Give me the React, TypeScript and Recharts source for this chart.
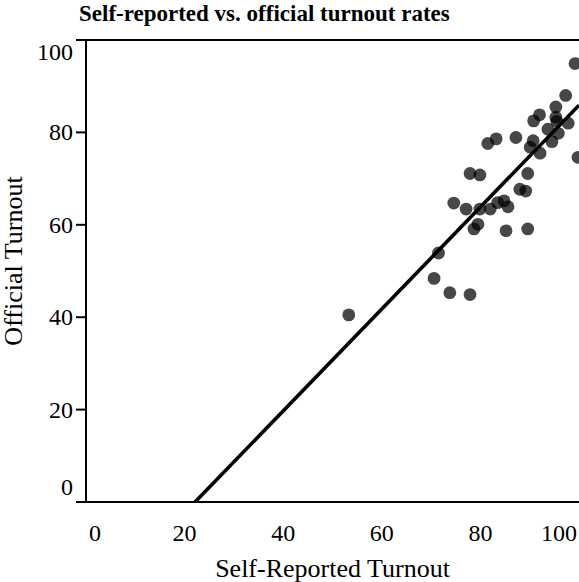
import React from 'react';
import { ScatterChart, Scatter, XAxis, YAxis, ReferenceLine } from 'recharts';

const chartTitle = 'Self-reported vs. official turnout rates';
const xTitle = 'Self-Reported Turnout';
const yTitle = 'Official Turnout';
const xTicks = [0, 20, 40, 60, 80, 100];
const yTicks = [0, 20, 40, 60, 80, 100];

const selfReported = [53.3, 70.6, 71.5, 73.8, 77.9, 74.6, 77.1, 77.9, 79.9, 79.5, 78.7, 79.9, 82.0, 83.5, 84.8, 85.6, 85.2, 89.6, 88.0, 89.2, 89.6, 81.5, 83.2, 87.2, 90.1, 90.7, 92.1, 90.8, 92.0, 93.7, 94.5, 95.3, 95.3, 95.5, 95.8, 97.3, 97.8, 99.2, 99.8];
const official = [40.5, 48.4, 53.9, 45.3, 44.9, 64.7, 63.4, 71.1, 70.8, 60.1, 59.1, 63.4, 63.4, 64.8, 65.2, 63.9, 58.7, 59.1, 67.7, 67.3, 71.1, 77.6, 78.6, 78.9, 76.8, 78.2, 75.5, 82.5, 83.8, 80.7, 78.0, 85.5, 83.3, 82.4, 79.8, 88.0, 82.0, 94.9, 74.6];

const fitSlope = 1.103;
const fitIntercept = -24.4;

const points = selfReported.map((x, i) => ({ x, y: official[i] }));
const fitStartX = -fitIntercept / fitSlope;
const fitSegment = [
  { x: fitStartX, y: 0 },
  { x: 100, y: fitIntercept + fitSlope * 100 },
];

const FONT = '"Liberation Serif", "Times New Roman", serif';

const XTick = (props: any) => {
  const { x, y, payload } = props;
  const v = payload.value;
  const cx = typeof payload.coordinate === 'number' ? payload.coordinate : x;
  let anchor: 'start' | 'middle' | 'end' = 'middle';
  let dx = 0;
  if (v === 0) { anchor = 'start'; dx = 3; }
  if (v === 100) { anchor = 'end'; dx = -2; }
  return (
    <text x={cx + dx} y={y + 39} textAnchor={anchor} fontFamily={FONT} fontSize={24} fill="#000">
      {v}
    </text>
  );
};

const YTick = (props: any) => {
  const { x, y, payload } = props;
  const v = payload.value;
  let dy = 8;
  if (v === 100) dy = 20;
  if (v === 0) dy = -7;
  return (
    <text x={x} y={y + dy} textAnchor="end" fontFamily={FONT} fontSize={24} fill="#000">
      {v}
    </text>
  );
};

const Dot = (props: any) => {
  const { cx, cy } = props;
  return <circle cx={cx} cy={cy} r={6.4} fill="#000" fillOpacity={0.72} />;
};

export default function App() {
  return (
    <div style={{ position: 'absolute', left: 0, top: 0, width: 579, height: 582, background: '#fff' }}>
      <ScatterChart width={579} height={582} margin={{ top: 40, right: 0, bottom: 0, left: 0 }}>
        <XAxis
          type="number"
          dataKey="x"
          domain={[0, 100]}
          ticks={xTicks}
          interval={0}
          tickLine={false}
          tickSize={0}
          tickMargin={0}
          height={80}
          axisLine={{ stroke: '#000', strokeWidth: 2 }}
          tick={<XTick />}
          label={{
            content: (p: any) => {
              const vb = p.viewBox;
              return (
                <text x={vb.x + vb.width / 2} y={vb.y + 75} textAnchor="middle" fontFamily={FONT} fontSize={26} fill="#000">
                  {xTitle}
                </text>
              );
            },
          }}
        />
        <YAxis
          type="number"
          dataKey="y"
          domain={[0, 100]}
          ticks={yTicks}
          interval={0}
          width={86}
          tickSize={10}
          tickMargin={3}
          tickLine={{ stroke: '#000', strokeWidth: 2 }}
          axisLine={{ stroke: '#000', strokeWidth: 2 }}
          tick={<YTick />}
          label={{
            content: (p: any) => {
              const vb = p.viewBox;
              const cx = 22;
              const cy = vb.y + vb.height / 2 - 10;
              return (
                <text x={cx} y={cy} transform={`rotate(-90, ${cx}, ${cy})`} textAnchor="middle" fontFamily={FONT} fontSize={26} fill="#000">
                  {yTitle}
                </text>
              );
            },
          }}
        />
        <ReferenceLine y={100} stroke="#000" strokeWidth={2} />
        <Scatter data={points} shape={<Dot />} isAnimationActive={false} />
        <ReferenceLine segment={fitSegment} stroke="#000" strokeWidth={3.6} />
      </ScatterChart>
      <svg width={579} height={40} style={{ position: 'absolute', left: 0, top: 0 }}>
        <text x={79} y={21} fontFamily={FONT} fontSize={23} fontWeight="bold" fill="#000">
          {chartTitle}
        </text>
      </svg>
    </div>
  );
}
